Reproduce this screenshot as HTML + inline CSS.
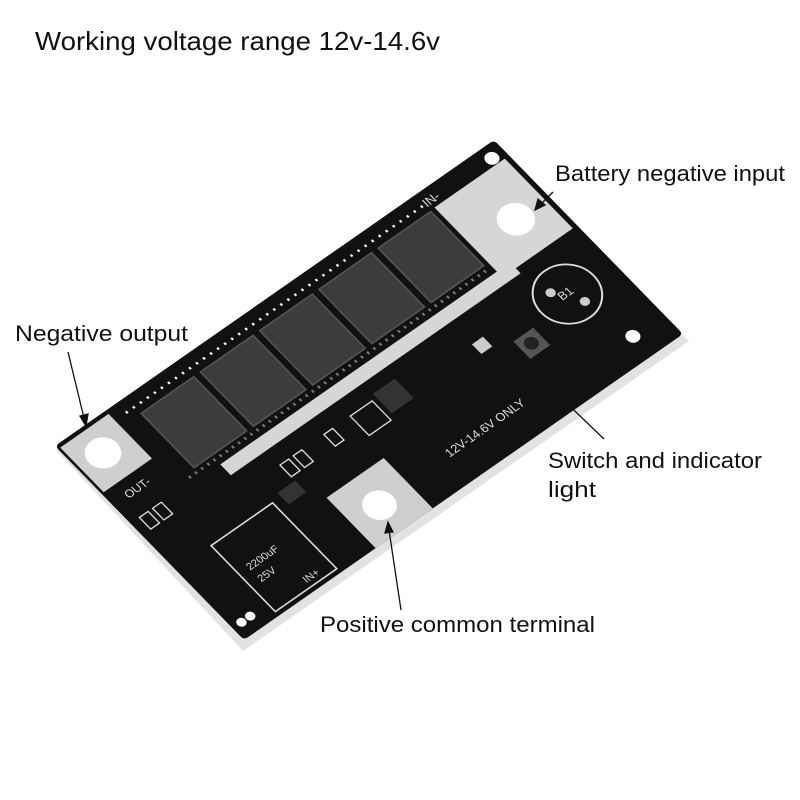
<!DOCTYPE html>
<html><head><meta charset="utf-8"><style>
html,body{margin:0;padding:0;background:#fff;}
svg{display:block;}
text{font-family:"Liberation Sans",sans-serif;}
</style></head><body>
<svg width="800" height="800" viewBox="0 0 800 800" xmlns="http://www.w3.org/2000/svg">
<rect width="800" height="800" fill="#fff"/>
<text x="35" y="50" font-size="26" fill="#111" textLength="405" lengthAdjust="spacingAndGlyphs">Working voltage range 12v-14.6v</text>

<polygon points="55,446 494,140 688,337 242,647" fill="#e2e2e2" transform="translate(1,4)"/>
<g transform="matrix(4.39,-3.06,3.78,3.88,55,446)">
  <rect x="0" y="0" width="100" height="50" rx="0.8" fill="#111"/>
  <rect x="0.5" y="0.8" width="11" height="11.5" fill="#cfcfcf"/>
  <ellipse cx="5.6" cy="6.2" rx="3.2" ry="3.1" fill="#fff"/>
  <rect x="83" y="4" width="16" height="18" fill="#d6d6d6"/>
  <rect x="20" y="20.5" width="66" height="2.8" fill="#d6d6d6"/>
  <ellipse cx="92.5" cy="14.5" rx="3.3" ry="3.3" fill="#fff"/>
  <line x1="14" y1="2.5" x2="82" y2="2.5" stroke="#fff" stroke-width="0.5" stroke-dasharray="0.4 1.2"/>
  <line x1="14" y1="19.2" x2="82" y2="19.2" stroke="#777" stroke-width="0.6" stroke-dasharray="0.4 1"/>
  <g fill="#3c3c3c" stroke="#555" stroke-width="0.3">
    <rect x="16" y="4.2" width="12" height="14"/>
    <rect x="29.5" y="4.2" width="12" height="14"/>
    <rect x="43" y="4.2" width="12" height="14"/>
    <rect x="56.5" y="4.2" width="12" height="14"/>
    <rect x="70" y="4.2" width="12" height="14"/>
  </g>
  <text x="82" y="3.2" font-size="2.4" fill="#ddd">IN-</text>
  <text x="3" y="16" font-size="2.2" fill="#ddd">OUT-</text>
  <rect x="30" y="37" width="13" height="13" fill="#cfcfcf"/>
  <ellipse cx="36.2" cy="43.8" rx="3" ry="3" fill="#fff"/>
  <rect x="8" y="32" width="14" height="17" fill="none" stroke="#ddd" stroke-width="0.3"/>
  <text x="10" y="40" font-size="2" fill="#ddd">2200uF</text>
  <text x="10" y="43" font-size="2" fill="#ddd">25V</text>
  <g fill="none" stroke="#ddd" stroke-width="0.25">
    <rect x="2" y="20" width="2" height="3"/><rect x="5" y="20" width="2" height="3"/>
    <rect x="28" y="27" width="2" height="3"/><rect x="31" y="27" width="2" height="3"/>
    <rect x="44" y="27" width="5" height="5"/><rect x="38" y="27" width="2" height="3"/>
  </g>
  <rect x="24" y="31" width="4" height="3" fill="#333"/>
  <rect x="50" y="26" width="5" height="5" fill="#333"/>
  <ellipse cx="89.6" cy="31.5" rx="6" ry="6" fill="none" stroke="#ddd" stroke-width="0.35"/>
  <circle cx="87.5" cy="29.5" r="0.9" fill="#ccc"/>
  <circle cx="91" cy="34.5" r="0.9" fill="#ccc"/>
  <text x="88" y="32" font-size="2.3" fill="#ddd">B1</text>
  <rect x="76" y="33" width="4.5" height="4.5" fill="#555"/>
  <circle cx="78.2" cy="35.2" r="1.3" fill="#222"/>
  <rect x="70" y="29" width="2.5" height="2.5" fill="#ccc"/>
  <text x="52" y="44" font-size="2.3" fill="#ddd">12V-14.6V ONLY</text>
  <text x="16" y="48" font-size="2" fill="#ddd">IN+</text>
  <circle cx="97.3" cy="2.6" r="1.3" fill="#fff"/>
  <circle cx="92.9" cy="45" r="1.3" fill="#fff"/>
  <circle cx="2" cy="47" r="0.9" fill="#fff"/>
  <circle cx="4" cy="47" r="0.9" fill="#fff"/>
</g>

<g font-size="22" fill="#111">
<text x="555" y="181" textLength="230" lengthAdjust="spacingAndGlyphs">Battery negative input</text>
<text x="15" y="341" textLength="173" lengthAdjust="spacingAndGlyphs">Negative output</text>
<text x="548" y="468" textLength="214" lengthAdjust="spacingAndGlyphs">Switch and indicator</text>
<text x="548" y="497" textLength="48" lengthAdjust="spacingAndGlyphs">light</text>
<text x="320" y="632" textLength="275" lengthAdjust="spacingAndGlyphs">Positive common terminal</text>
</g>
<g stroke="#111" stroke-width="1.3" fill="#111">
<line x1="553" y1="192" x2="540" y2="205"/><polygon points="535,210 538,199 545,205"/>
<line x1="68" y1="352" x2="84" y2="418"/><polygon points="86,426 80,416 88,414"/>
<line x1="604" y1="439" x2="528" y2="366"/><polygon points="522,360 533,364 527,370"/>
<line x1="401" y1="610" x2="389" y2="530"/><polygon points="388,522 393,532 385,533"/>
</g>
</svg>
</body></html>
